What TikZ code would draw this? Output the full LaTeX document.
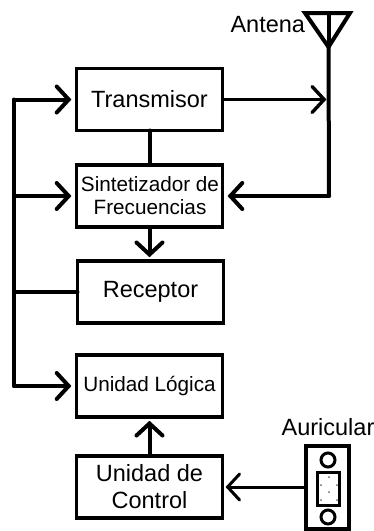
\documentclass[tikz,border=0pt]{standalone}
\usepackage{fontspec}
\setmainfont{Liberation Sans}
\usetikzlibrary{arrows.meta}
\pgfdeclarearrow{
  name=VBarb,
  parameters={\the\pgflinewidth},
  setup code={\pgfarrowssettipend{0.7\pgflinewidth}\pgfarrowssetlineend{-0.5\pgflinewidth}},
  drawing code={\pgfsetdash{}{0pt}\pgfsetroundcap\pgfsetmiterjoin
    \pgfpathmoveto{\pgfqpoint{-12pt}{13pt}}
    \pgfpathlineto{\pgfqpoint{0pt}{0pt}}
    \pgfpathlineto{\pgfqpoint{-12pt}{-13pt}}
    \pgfusepathqstroke}
}
\tikzset{
  box/.style={draw=black,line width=3.3pt,rectangle,minimum width=146pt,minimum height=62pt,inner sep=0pt,outer sep=0pt,align=center},
  big/.style={font=\fontsize{23.5}{27}\selectfont},
  small/.style={font=\fontsize{20.7}{23}\selectfont},
  wire/.style={line width=4pt,line cap=round,line join=round},
  arr/.style={wire,-VBarb,shorten >=5pt},
  arrv/.style={wire,-VBarb,shorten >=3.7pt},
  lab/.style={inner sep=0pt,outer sep=0pt,font=\fontsize{23.5}{27}\selectfont}
}
\begin{document}
\begin{tikzpicture}[x=1pt,y=-1pt]
\useasboundingbox (0,0) rectangle (374,531);
\node[box,big] (tx) at (149.5,99.5) {Transmisor};
\node[box,small] (sy) at (149.5,196) {\hspace{1pt}Sintetizador de\\\hspace{1pt}Frecuencias};
\node[box,big] (rx) at (150.5,292) {Receptor};
\node[box,small] (ul) at (149.5,386) {Unidad Lógica};
\node[box,big] (uc) at (149.5,487) {\raisebox{-1.5pt}{Unidad de}\\\raisebox{-1.5pt}{Control}};
\coordinate (bus) at (14,0);
\coordinate (mast) at (329,0);
\coordinate (apex) at (328.5,47);
\coordinate (tl) at (305,13);
\coordinate (tr) at (350,13);
\coordinate (tc) at (328.5,13);
\node[lab,anchor=base east] (ant) at (305,32) {Antena};
\draw[wire,line join=miter] (tl) -- (tr) -- (apex) -- cycle;
\draw[wire] (tc) -- (apex);
\draw[wire] (apex) -- (mast |- sy.east);
\draw[arr] (mast |- sy.east) -- (sy.east);
\draw[arr,line width=3.4pt,shorten >=2.5pt] (tx.east) -- (mast |- tx.east);
\draw[wire] (tx.south) -- (sy.north);
\draw[arrv] (sy.south) -- (sy.south |- rx.north);
\draw[arrv] (uc.north) -- (ul.south);
\draw[wire] (bus |- tx.west) -- (bus |- ul.west);
\draw[arr] (bus |- tx.west) -- (tx.west);
\draw[arr] (bus |- sy.west) -- (sy.west);
\draw[wire] (bus |- rx.west) -- (rx.west);
\draw[arr] (bus |- ul.west) -- (ul.west);
% auricular
\node[draw=black,line width=3.3pt,minimum width=43pt,minimum height=83pt,inner sep=0pt,outer sep=0pt] (au) at (327.5,487.5) {};
\node[lab,anchor=base] (aulab) at (328,435) {Auricular};
\node[draw=black,line width=3pt,circle,minimum size=14pt,inner sep=0pt] (c1) at (328,460) {};
\node[draw=black,line width=3pt,circle,minimum size=14pt,inner sep=0pt] (c2) at (328,517) {};
\node[draw=black,line width=3pt,minimum width=22pt,minimum height=33pt,inner sep=0pt] (pl) at (328,488.5) {};
\foreach \p/\q in {329/477,321/485,337/485,329/492,321/500,337/500}
  \fill[black!60] (\p,\q) circle (1pt);
\draw[arr,line width=3pt,shorten >=3pt] (au.west |- uc.east) -- (uc.east);
\end{tikzpicture}
\end{document}
